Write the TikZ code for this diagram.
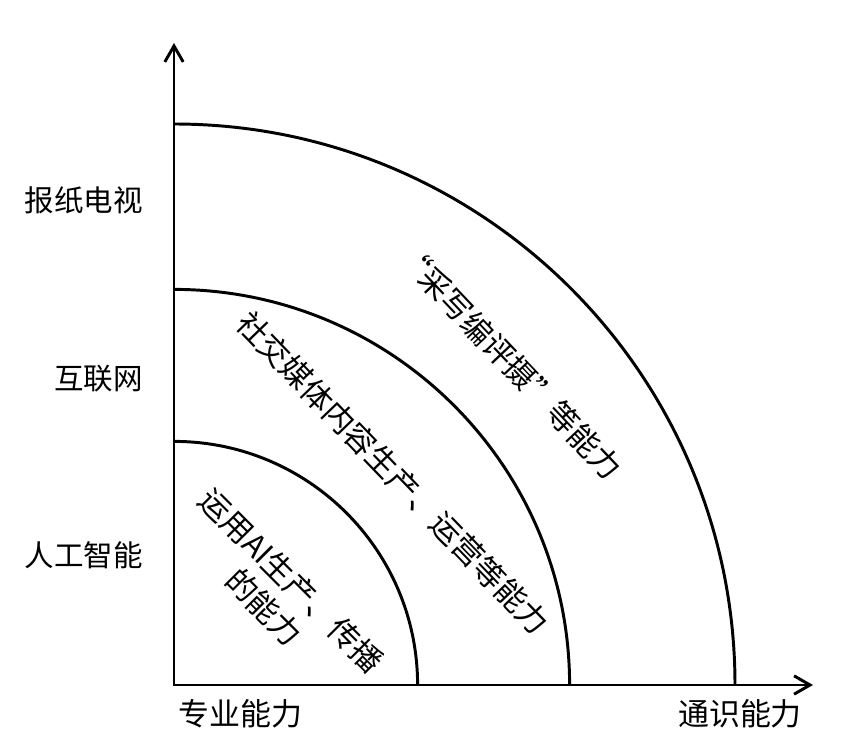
\documentclass[tikz,border=0pt]{standalone}
\usepackage{fontspec}
\setmainfont{Liberation Serif}
\newfontfamily\cjk{Noto Sans CJK SC}
\usetikzlibrary{arrows.meta}

\begin{document}
\begin{tikzpicture}[
  font=\cjk\fontsize{22}{27}\selectfont,
  axis/.style={line width=2.1pt, {Straight Barb[length=4mm,width=4.6mm]}-{Straight Barb[length=4mm,width=4.6mm]}},
  ring/.style={line width=2.1pt},
  band/.style={align=center, inner sep=0pt}]
  \useasboundingbox (-4.35,-1.625) rectangle (17.3,17.125);
  % axes
  \coordinate (O) at (0,0);
  \coordinate (ytop) at (0,16.05);
  \coordinate (xend) at (15.975,0);
  \draw[axis] (ytop) -- (O) -- (xend);
  % quarter rings
  \foreach \r in {6.09,9.89,14.025}
    \draw[ring] (0,\r) arc[start angle=90, end angle=0, radius=\r];
  % media labels
  \node[anchor=east, font=\cjk\fontsize{21}{25}\selectfont] (paper) at (-0.65,12.125) {报纸电视};
  \node[anchor=east, font=\cjk\fontsize{21}{25}\selectfont] (web) at (-0.65,7.65) {互联网};
  \node[anchor=east, font=\cjk\fontsize{21}{25}\selectfont] (ai) at (-0.65,3.25) {人工智能};
  \node[anchor=west] (spec) at (0,-0.72) {专业能力};
  \node (gen) at (14.15,-0.72) {通识能力};
  % ring texts
  \node[band, rotate=-45] (inner) at (2.59,2.28) {运用AI生产、传播\\的能力};
  \node[band, rotate=-46] (middle) at (5.48,5.3) {社交媒体内容生产、运营等能力};
  \node[band, rotate=-46.5] (outer) at (8.4,8.08) {“采写编评摄”等能力};
\end{tikzpicture}
\end{document}
